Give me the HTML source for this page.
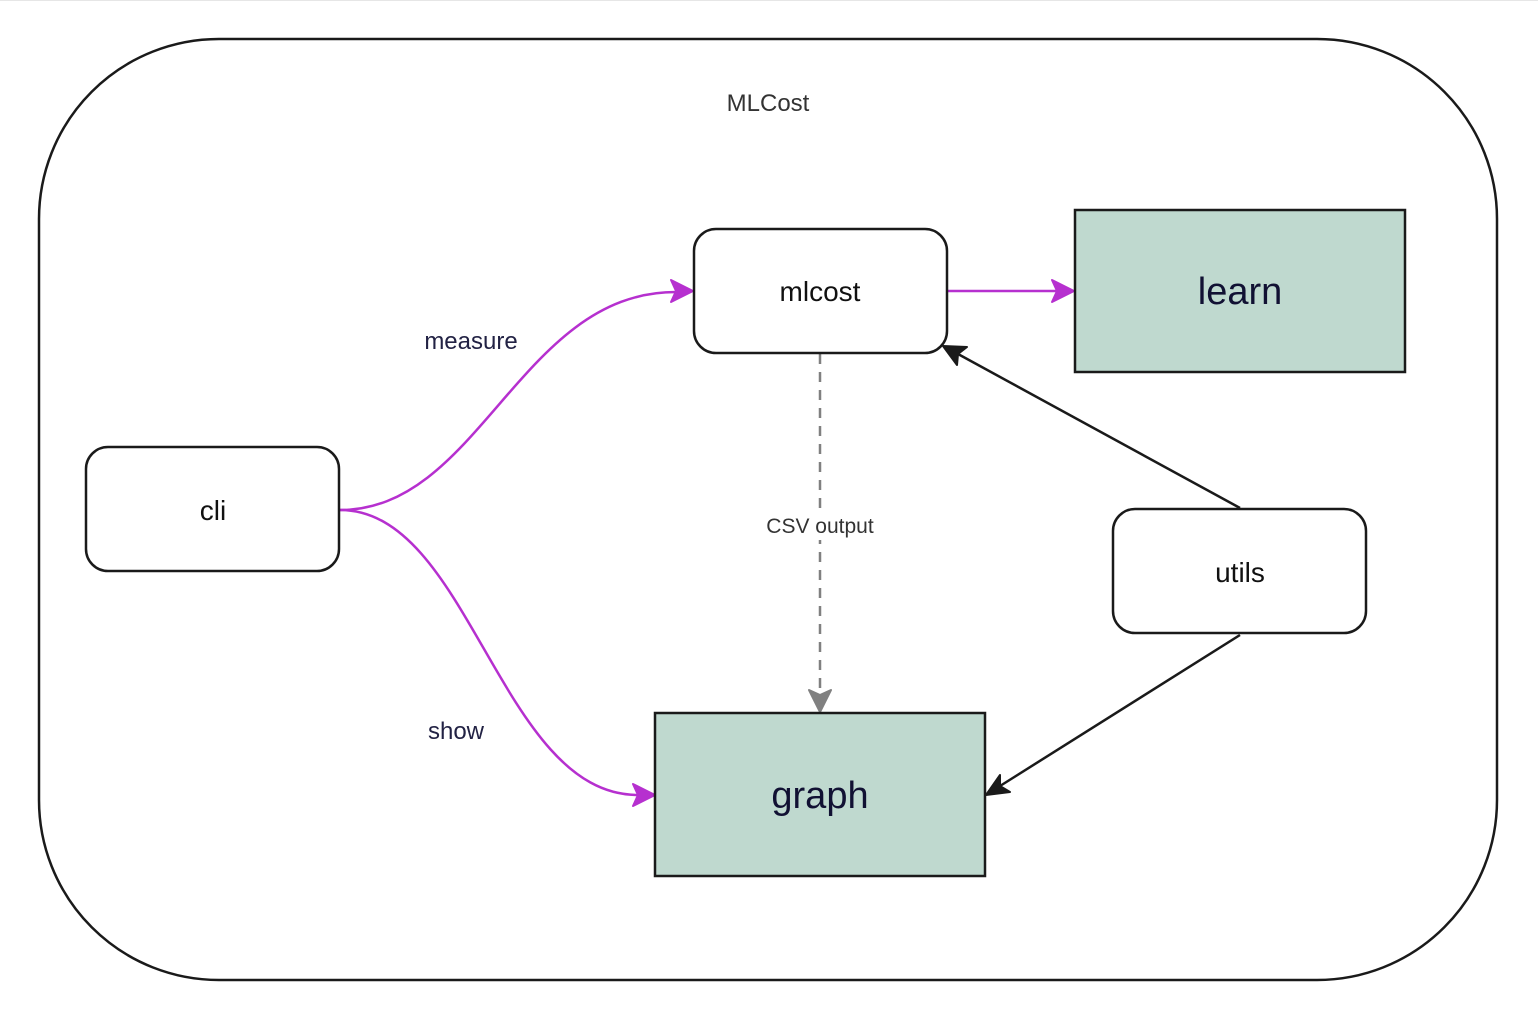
<!DOCTYPE html>
<html><head><meta charset="utf-8"><style>
html,body{margin:0;padding:0;background:#fff;}
svg{display:block;}
text{font-family:"Liberation Sans","DejaVu Sans",sans-serif;}
</style></head><body>
<svg width="1538" height="1015" viewBox="0 0 1538 1015" xmlns="http://www.w3.org/2000/svg">
<defs>
<marker id="am" viewBox="0 0 10 10" refX="9" refY="5" markerWidth="7" markerHeight="7" orient="auto" markerUnits="userSpaceOnUse">
</marker>
</defs>
<line x1="0" y1="0.5" x2="1538" y2="0.5" stroke="#e6e6e6"/>
<rect x="39" y="39" width="1458" height="941" rx="180" ry="180" fill="#fff" stroke="#1a1a1a" stroke-width="2.5"/>
<text x="768" y="111" font-size="24" fill="#333" text-anchor="middle" font-family="DejaVu Sans, sans-serif">MLCost</text>

<!-- magenta curves -->
<path d="M340 510 C 480 510, 520 292, 676 292" fill="none" stroke="#b630cf" stroke-width="2.5"/>
<path d="M340 510 C 470 510, 500 795, 638 795" fill="none" stroke="#b630cf" stroke-width="2.5"/>
<path d="M947 291 L 1058 291" fill="none" stroke="#b630cf" stroke-width="2.5"/>
<path d="M693 291 L671 280 L676 291 L671 302 Z" fill="#b630cf" stroke="#b630cf" stroke-width="2" stroke-linejoin="round"/>
<path d="M655 795 L633 784 L638 795 L633 806 Z" fill="#b630cf" stroke="#b630cf" stroke-width="2" stroke-linejoin="round"/>
<path d="M1074 291 L1052 280 L1057 291 L1052 302 Z" fill="#b630cf" stroke="#b630cf" stroke-width="2" stroke-linejoin="round"/>

<!-- dashed -->
<line x1="820" y1="354" x2="820" y2="695" stroke="#808080" stroke-width="2.5" stroke-dasharray="10,8"/>
<path d="M820 712 L809 690 L820 695 L831 690 Z" fill="#808080" stroke="#808080" stroke-width="2" stroke-linejoin="round"/>
<rect x="758" y="512" width="124" height="28" fill="#fff"/>
<text x="820" y="533" font-size="21" fill="#333" text-anchor="middle" font-family="DejaVu Sans, sans-serif">CSV output</text>

<!-- black arrows -->
<line x1="1240" y1="508" x2="958" y2="354" stroke="#1a1a1a" stroke-width="2.5"/>
<path d="M943 346 L967 347 L958 354 L957 365 Z" fill="#1a1a1a" stroke="#1a1a1a" stroke-width="2" stroke-linejoin="round"/>
<line x1="1240" y1="635" x2="1000" y2="786" stroke="#1a1a1a" stroke-width="2.5"/>
<path d="M986 795 L1000 775 L1000 786 L1010 792 Z" fill="#1a1a1a" stroke="#1a1a1a" stroke-width="2" stroke-linejoin="round"/>

<!-- nodes -->
<rect x="694" y="229" width="253" height="124" rx="22" fill="#fff" stroke="#1a1a1a" stroke-width="2.5"/>
<text x="820" y="301" font-size="28" fill="#111" text-anchor="middle">mlcost</text>
<rect x="1075" y="210" width="330" height="162" fill="#bfd9cf" stroke="#1a1a1a" stroke-width="2.5"/>
<text x="1240" y="304" font-size="38" fill="#111133" text-anchor="middle">learn</text>
<rect x="86" y="447" width="253" height="124" rx="22" fill="#fff" stroke="#1a1a1a" stroke-width="2.5"/>
<text x="213" y="520" font-size="28" fill="#111" text-anchor="middle">cli</text>
<rect x="1113" y="509" width="253" height="124" rx="22" fill="#fff" stroke="#1a1a1a" stroke-width="2.5"/>
<text x="1240" y="582" font-size="28" fill="#111" text-anchor="middle">utils</text>
<rect x="655" y="713" width="330" height="163" fill="#bfd9cf" stroke="#1a1a1a" stroke-width="2.5"/>
<text x="820" y="808" font-size="38" fill="#111133" text-anchor="middle">graph</text>

<text x="471" y="349" font-size="24" fill="#222244" text-anchor="middle" font-family="DejaVu Sans, sans-serif">measure</text>
<text x="456" y="739" font-size="24" fill="#222244" text-anchor="middle" font-family="DejaVu Sans, sans-serif">show</text>
</svg>
</body></html>
